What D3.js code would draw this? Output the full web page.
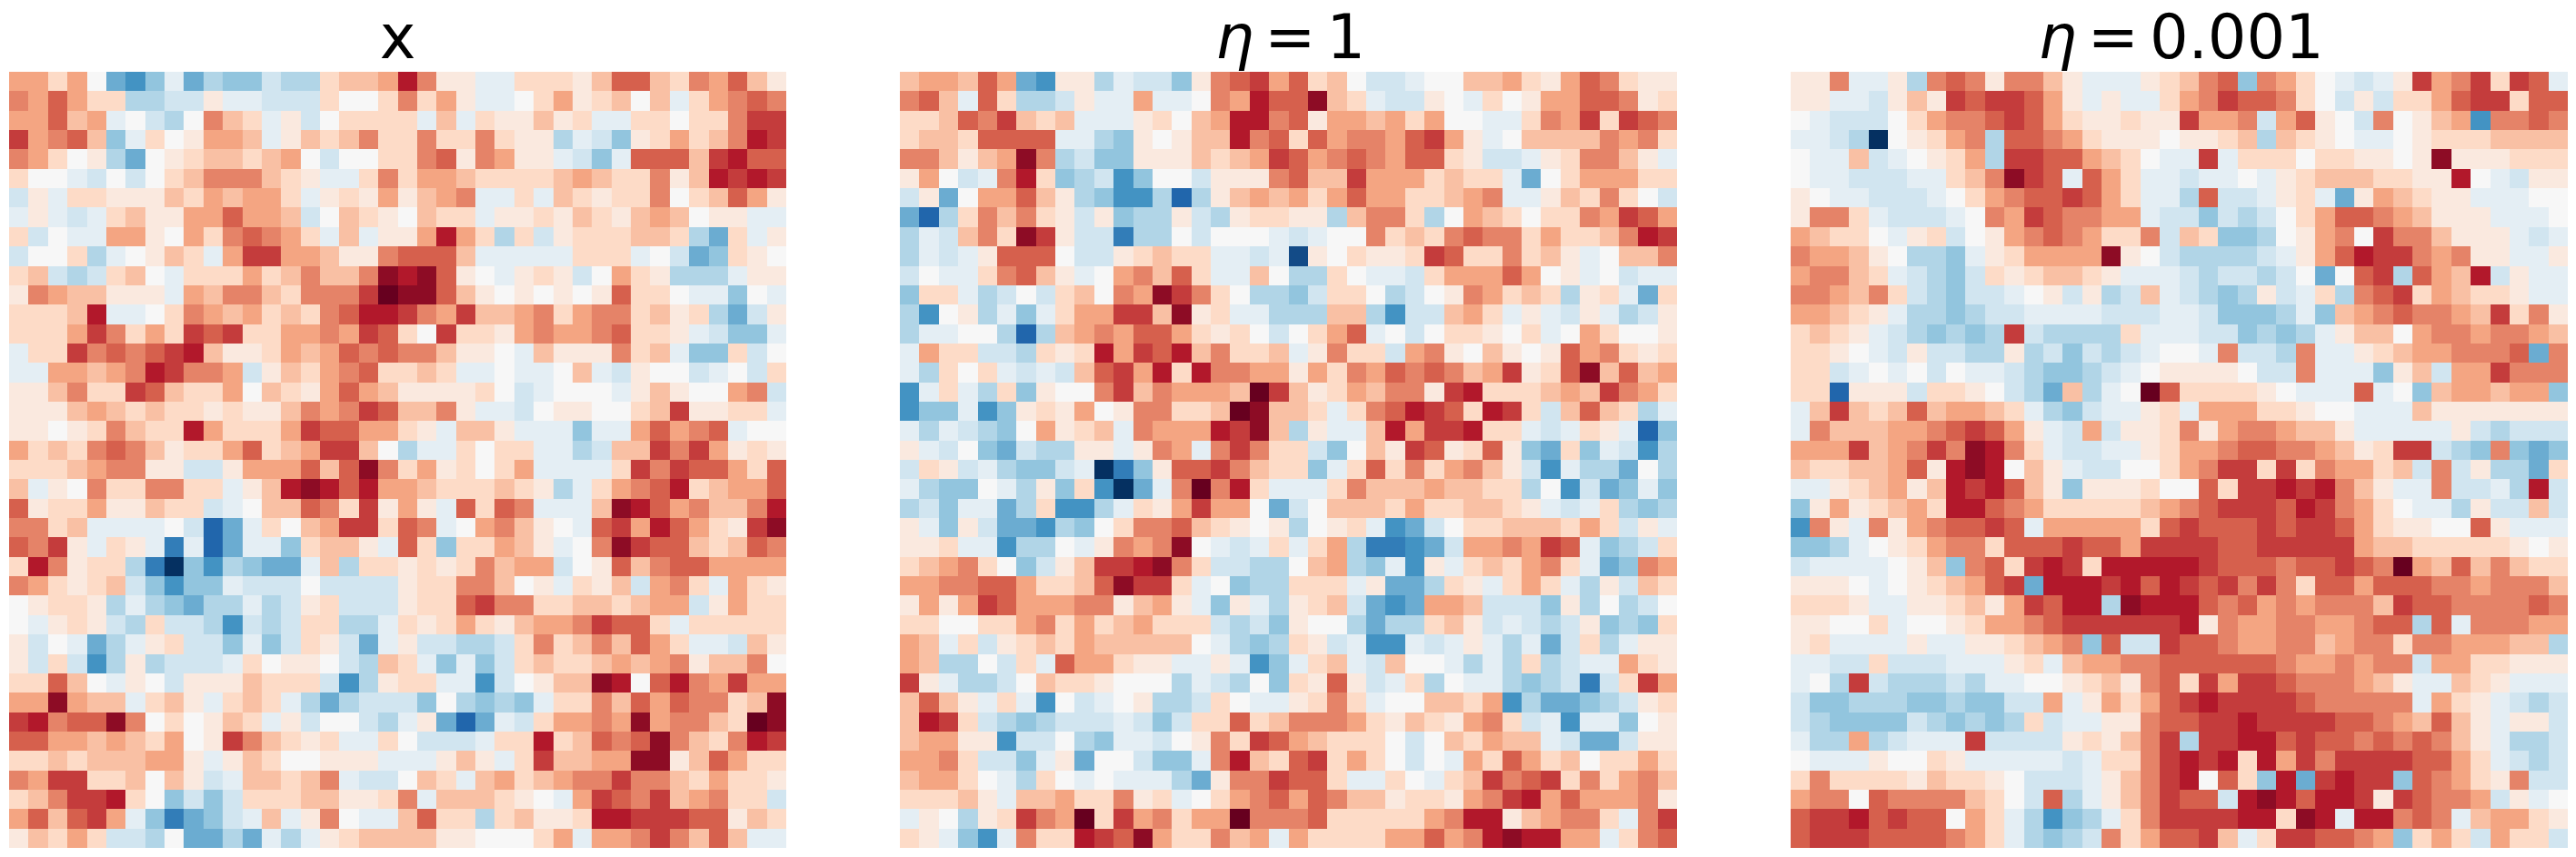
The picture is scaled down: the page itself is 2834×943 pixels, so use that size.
<!DOCTYPE html>
<meta charset="utf-8">
<script src="https://d3js.org/d3.v7.min.js"></script>
<html>
<style>
body { margin: 0; background: #fff; }
svg { display: block; }
text { font-family: "DejaVu Sans"; fill: #000; }
</style>
<body>
<div id="chart"></div>
<script>
// each row is 40 cells, one letter per cell, a = lowest .. u = highest
var levels = "abcdefghijklmnopqrstu";

var panelX = [
"oomokfegjf hggihhmnno splljjmmml nqqnmpoqnl",
"poqommhhii ljjiiimkkm pmoljjkmol mnknjmopqp",
"ooqnojkihk pnmjlikmmm mjnjmllnlm jjmmkmmprr",
"ropqngjmkl oonjlnmnpm mpmmpmllhj iglmomnpsr",
"pomklhfklm nnmnokikkm mpqlpollji gjqqqnrsqq",
"mkkjikikmn pppnmljjmp moonmmmmno nmmplnsrsr",
"iljmmlllnm onoomjlmlo lnopjjmjnm lmmpkmnqol",
"jljijmnllo oqooniknml knmmjllmln mlnonklljj",
"mikjjoolko mpqpomjnjl losomhmilm mmnnmhfmjl",
"ikkmhjklnm jorroonllp qqqnjjjjjm mmjkifgmlk",
"mnihimnkjm mmomnpnnpt stqlkjlmli komlhhhjll",
"lponnllljo nppnmpppru ttqnlklklk lqmmkjjgkj",
"mmmnsjjkmp onomnmpqss rpornnopmo ppmnlmhfil",
"mmmorpmomr qrmmooporq mkrmmlopoo pqmmljiggj",
"jmmrpqpqrs nllmonoqpq ppnllkjnll lpmnjggmik",
"jjoonopsrp poilnmopqm mnmjjkjjkn jilkkijkim",
"llnpmmrqnm moknmloqon llllmkijkk kjlnlkkopi",
"lllnonmnmm lmllnpoprq nnpljjikll kkmnrllmmj",
"llklmpnmms ommmorqqoo mljnnljjjg jjoqopqjkk",
"omnmpqpnlm moqmnorrnk hjjmkmmjjh innrprolml",
"mmmnopplli iloooqnqtp molmkmojjj jmrprqqomq",
"njlkpmmppm mjlnstsqso onmmmnmlhj mopqsmnooq",
"qlmmollnmm ijknnqpmrl oljqmqpjjj ntsqopnnps",
"ppmnjjjjki cfjmknorrm qpjkopnlkj qrosqomlrt",
"qprljmljdj cfjjgmnnlj qmgmmonljk ptrqqnmnqp",
"msplmmhdag ehgffjnhmm lmlmpnooik lqnpqqoooo",
"pomlmnigeg gjiiikiiii lmmppnkljm lniopmjoml",
"klmmlhjhgf hhjhilmiii lmmqrppmmn nmnooilomm",
"kjlmlihmii heihimmhhj mlmomlnoop rqqmjmmmmm",
"likjfhjlmi igjgimlifj liihhimpmn pnqomjjinl",
"limiehlhii ijmkllkihn mjgjgimnmm nonoplnnpk",
"mmqnkjlkil llnmmmiehl mmjjeiklnn tskqsporoo",
"ootonnjmnl jmnmjhfhii igkhghgjmm pnqoqppmnt",
"rspqqtpkmk lnmjlikkih jlfcfjimoo potoppnmut",
"qqoononmok lrpnmlmjjm kiiijmmsmn qpqtpnmpsr",
"mmnmnnnool jlnmkklllj jjlnljmrnn oottlnqomm",
"porrmmnknl ijnnmnpjii knmjnomnop prppnmomml",
"mnprrsmkgi gimmmnnllm pjnnnmlkjo rqprnopmmi",
"oqnqrojgdf gijnjlpkjj nqmmhmnllm ssrrrqqlnm",
"lnmomiihkf fhfjhjlmnn nnllkkkmoj ooprpnqnjj"
];

var panelEta1 = [
"noonqofell hjiiglpqro qmnkiijkkn nomloqpmll",
"pqnjqmhhil jjojjkposq qtnmjiilkj mklooqqplm",
"mmnqprnmnj jjlmknossp qloonomokk jjmpormrqp",
"mnnmqqqqjj hglklnnspq mqoppoqrol jknnnnpopm",
"ppnlnotphi gglllnmnor qopqpoqqml iijlmppnlj",
"lokijpsmgh iegkkilllp qnnrooomnm mjfkmooomm",
"ilfkooqnlh geehchlnon omoqoommno pjjlnmpmki",
"fchmpnpmli lghhlihlmm llhnppmhko nmkmmporqo",
"hjinpmtrli idhhkikkkj ijkkpmnmpq ppmommnpsr",
"hjijlqqqki ilmnmmjjij blkmllmrqm mpmnljknnp",
"ikjjmpqnlj kopnqmjjnk hhmkjjimoo oqokljkijj",
"gmmjhikimn kpotrpmkhh gimmkhiklp omnmhlmjfm",
"heklhjgjmo orrntlmjjh hhnnheiino mjljiljhil",
"hjjkkhchno poqqomlmki kmoqjkikmm lkmjkomkkl",
"jommiihmlm sorqsnpmmn jlpmmioplk nlklqopmlm",
"jhmkmjijin qrosmsppoo lompoqpqpn orlmqtnqno",
"ejmjhmglkk prnpooonur nlmonpplrs mmmnonrpom",
"eggjeglmlo klppmmnutn nmjmpqsrqm srminqnmhj",
"jhjihgkolm njpooosrtn hljjnsorrs mmjijmljcg",
"ljikgfihhl ljlpojprpm migknlrqlm qlgfmgjieh",
"imlijhggij adglqqrpnm mgjmqmpmop nliejhhfkh",
"jhggkjhlgm eafjpupsmj jjmpnnnonn mmhkeifgjg",
"higjjfhmee hjmlorookf iknnnmommn nmljijmhgh",
"ljgliffehg kmppqnmlkl hklmjefikm mnnnmomilj",
"llmjjehhkj lpoptkjijm jmohddefio oporqjghim",
"mnopmkgiln rrstpmiihh knohgjeljm nmopmjfgpo",
"ooppqqommn qtrrmjkghh mmmjlffhml jmomjhlinm",
"lolorqooop plnoljgljh lmnifefoon iiiglhkhik",
"mmkkmmopmo mnommmihig lkkhfhhmnl ijihilghgm",
"onjmilmnmo nnnnnkjhgh mlijeejijl jhjfimhjll",
"onhhkimjqo omlljjljeg jmnjinkkjh jhmhijjoml",
"rljhhiknmm lkkkhjihkg mlqlijmhkj jhghidimro",
"nqnljmjeki jklhhimkjj lmpmjkknnm oehffghilm",
"nsrmihghii ijigimmqmn pppomlnmlo pmijejjgkl",
"noolleiikh gjjiklpmrq onmmmkiknm onnjiffill",
"oopmiigjlf kkiggjpsnm qrmomkikjo mqomnkmmom",
"noomkjhmkj kjjjhflppr qqmjjmkjmn rpqrmpmopn",
"mmmnljnnom mplmjkmopq oqpnnlmmlo prsoqooopl",
"jlkhlmrpou mropmooupp pqmmmmmops slnoppmjpr",
"mljgejpmms rqtommpnoj ommmmooqop stssoojmpq"
];

var panelEta001 = [
"llpjjlhpqp lppnljjjlm npqgpomkji jlroprmrqj",
"lljjilnlrq rrqoljljjm oprqqpmkil immoqrrmqq",
"kjiiikmopp qrqomllmll roopioqlki pklnoeppqp",
"jjihaklmop hqqpomlllk llmnhnmlkj jklmmmnnnn",
"kjjnijklmo hrrqqonmkj jrjmmmkmml lkltlllmmm",
"kjjiiijjmn ptrqjqomjj ijjkjlmnnn mmllskjill",
"lkjjiiijkm opqqrqomjj hqiijlmjfl onmlljjjkk",
"lppmjiiijk porqppooji igihikmoqq ponllljjjk",
"onmmkjlmik lopqpommpi nmgghklopk rppnllljij",
"poonlkhhgj lmooootlki hhhhijloqs rrpoplljjl",
"oppnmjihgi mlmnnmljjj ihiihikfkq rhqonsiljj",
"pponpmihgi ijklilhinj ihghlijmhp qrmonmmljj",
"oonmljhhgh iijjjjiiij jiggghjgno pqpponrmpl",
"mnmljihghg hrihhhhmjj jiighghjln nkoppoppon",
"mmlkjiliih hlhigihijk kjpiihpjjl mnoopppqfp",
"mmijkjkikj jihgghijkl lllkiipjjj glnioorppp",
"mmclllimml kihfnhjkuq mmmmlkjjjq jkgnoonoog",
"jnrnmnqnoo nmjhgijjlm jooommlkkj jjnlllllll",
"jpnnnoopqr qoljioillm plopponnlj jjjjlihiii",
"ooornoprpt spmjiijjlm oopqqpponl mrrihgpgfg",
"nmmnnoqlst sknljiikkm oprrmrmpoo mnipilhhfm",
"jjlmnolnsr sqnlglllmk kqmrrsrspn ljjpiijhsi",
"glolmnomss qpommmmmno pqrrrqsrpo mkjjhliini",
"epljplopqq rqjooooomq rqqqrqrrqo mllkkqljjj",
"gghjklmopp mqqqrqqorr rrqqrrrrro nnmmmmmlkl",
"ijjjjklngp qmrsrmssss srqqqpqqrq puonqnpnmm",
"lllkjklmno qrfsssrsqs rqrprpmqqo qqqppopppn",
"mmmljjllmn lorqsshtss sqpqopoppp nrqqppppqp",
"llkkmjkklm oopqrrrrrr slpooppoop qqhqjpppoo",
"lmjjjjljjl lmnopgqiir qqpooppnop pmppooonnh",
"jjiimiiijj jlmjnooppq qqqqqpoopo ppioommlll",
"jkhrihhhih jjkklmnlpq mrorrqpppo nljjnmljjj",
"igghhhgghg giiojlomoq rsrrrrqppp ppjomljihi",
"ihggggihgh ghmijjllpq qrrsrrrrqq ponqnljlli",
"jhhohijjjr iiiilmlnpr hrrssqrqqp qpqpnljhhi",
"kjjjlkkmlj jjjjijmmpr srsmsorprr rrqqomjihi",
"mpmmmmlnmm lkiiijlnpr skqmgsfrsr rgqpomlpii",
"oppkqppppn mkiqhjlnpr qqistsqssr lrqppoiljk",
"qrrsqrqqko mjheghjmpr rrrssmtsjs spqpjnooml",
"qrrrqqqqpo mjhghipmoq qrnjmrrqqp ogmomiommi"
];

var panelRows = [panelX, panelEta1, panelEta001];
var eta = ["", "1", "0.001"];
var rdbu = ["#053061", "#2166ac", "#4393c3", "#92c5de", "#d1e5f0", "#f7f7f7",
            "#fddbc7", "#f4a582", "#d6604d", "#b2182b", "#67001f"];

var width = 2834, height = 943,
    panelW = 855, panelH = 854, panelGap = 125,
    margin = { top: 79, left: 10 };

var svg = d3.select("#chart")
    .append("svg")
    .attr("width", width)
    .attr("height", height);

var panel = d3.scaleBand()
    .domain(d3.range(panelRows.length))
    .range([margin.left, margin.left + 3 * panelW + 2 * panelGap])
    .paddingInner(panelGap / (panelW + panelGap));

var cellX = d3.scaleBand().domain(d3.range(40)).range([0, panelW]);
var cellY = d3.scaleBand().domain(d3.range(40)).range([0, panelH]);

var color = d3.scaleLinear()
    .domain(d3.range(11).map(function (i) { return i / 10; }))
    .range(rdbu);

panelRows.forEach(function (rows, p) {
    var x0 = panel(p);

    // title goes first, the heatmap sits on top of the eta tail
    var title = svg.append("text")
        .attr("x", x0 + panelW / 2 + (p === 0 ? 0 : 2))
        .attr("y", 64)
        .attr("text-anchor", "middle")
        .attr("font-size", 67);
    if (p === 0) {
        title.text("x");
    } else {
        title.append("tspan").attr("font-style", "italic").text("η");
        title.append("tspan").attr("dx", 12).text("=");
        title.append("tspan").attr("dx", 12).text(eta[p]);
    }

    var values = [];
    rows.forEach(function (row, r) {
        row.replace(/ /g, "").split("").forEach(function (ch, c) {
            values.push({ r: r, c: c, v: levels.indexOf(ch) / 20 });
        });
    });

    svg.append("g")
        .attr("transform", "translate(" + x0 + "," + margin.top + ")")
        .attr("shape-rendering", "crispEdges")
        .selectAll("rect")
        .data(values)
        .enter().append("rect")
        .attr("x", function (d) { return cellX(d.c); })
        .attr("y", function (d) { return cellY(d.r); })
        .attr("width", cellX.bandwidth())
        .attr("height", cellY.bandwidth())
        .attr("fill", function (d) { return color(d.v); });
});
</script>
</body>
</html>
